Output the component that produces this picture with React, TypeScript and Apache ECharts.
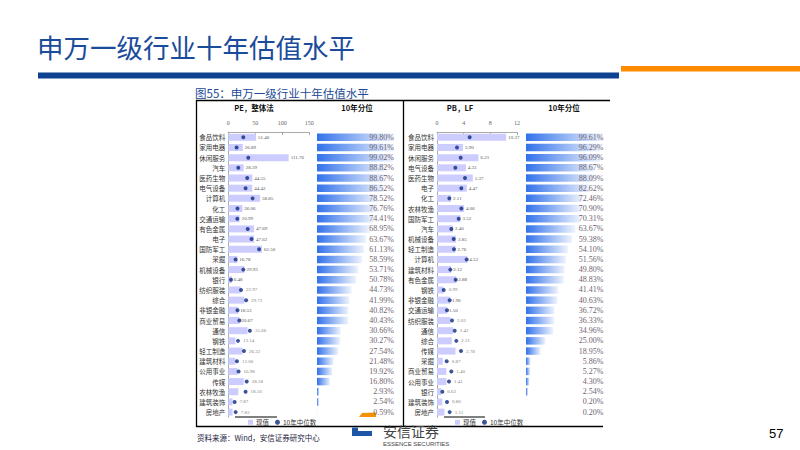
import React, { useEffect, useRef } from "react";
import * as echarts from "echarts";

const peCategories = ["食品饮料","家用电器","休闲服务","汽车","医药生物","电气设备","计算机","化工","交通运输","有色金属","电子","国防军工","采掘","机械设备","银行","纺织服装","综合","非银金融","商业贸易","通信","钢铁","轻工制造","建筑材料","公用事业","传媒","农林牧渔","建筑装饰","房地产"];
const peCurrent = [51.46,26.89,111.76,28.39,44.55,44.42,58.85,26.06,20.99,47.69,47.62,62.50,16.78,29.93,6.48,22.97,29.73,18.53,20.67,35.66,13.14,26.22,13.00,16.98,28.58,18.50,7.87,7.83];
const peMedian = [27.8,15.4,37,18.5,35,32,45,17,16.7,36,43,57,13.6,27.8,5,23.5,33,17,20.5,40,18,29,16,19,34,32,11.7,13.6];
const pePercentile = [99.80,99.61,99.02,88.82,88.67,86.52,78.52,76.76,74.41,68.95,63.67,61.13,58.59,53.71,50.78,44.73,41.99,40.82,40.43,30.66,30.27,27.54,21.48,19.92,16.80,2.93,2.54,0.59];

const pbCategories = ["食品饮料","家用电器","休闲服务","电气设备","医药生物","电子","化工","农林牧渔","国防军工","汽车","机械设备","轻工制造","计算机","建筑材料","有色金属","钢铁","非银金融","交通运输","纺织服装","通信","综合","传媒","采掘","商业贸易","公用事业","银行","建筑装饰","房地产"];
const pbCurrent = [10.37,3.90,6.21,4.33,5.37,4.47,2.11,4.06,3.52,2.40,2.85,2.76,4.53,2.12,2.88,0.99,1.96,1.50,2.03,2.42,2.21,2.78,0.87,1.40,1.41,0.63,0.80,1.11];
const pbMedian = [4.9,3.0,3.55,2.75,4.2,3.65,1.85,3.65,3.25,2.15,2.5,2.55,4.45,2.0,2.8,1.0,1.9,1.5,2.25,2.65,2.9,3.6,1.45,2.15,1.8,0.8,1.5,1.9];
const pbPercentile = [99.61,96.29,96.09,88.67,88.09,82.62,72.46,70.90,70.31,63.67,59.38,54.10,51.56,49.80,48.83,41.41,40.63,36.72,36.33,34.96,25.00,18.95,5.86,5.27,4.30,2.54,0.20,0.20];

const peTickInterval = 50;
const peMax = 150;
const pbTickInterval = 4;
const pbMax = 12;

const pageTitle = "申万一级行业十年估值水平";
const figureTitle = "图55：申万一级行业十年估值水平";
const peHeader = "PE，整体法";
const pbHeader = "PB，LF";
const pctHeader = "10年分位";
const sourceText = "资料来源：Wind，安信证券研究中心";
const pageNumber = "57";

const GRID_TOP = 132.2;
const GRID_H = 285;
const BAR_COLOR = "#ccccff";
const DOT_COLOR = "#0b2a80";
const CAT_FONT = "Noto Sans CJK SC";
const NUM_FONT = "Liberation Serif";

function pctGradient() {
  return new echarts.graphic.LinearGradient(0, 0, 1, 0, [
    { offset: 0, color: "#3272ea" },
    { offset: 1, color: "#eef3fd" },
  ]);
}

function valueXAxis(gridIndex: number, max: number, interval: number) {
  return {
    type: "value",
    gridIndex,
    position: "top",
    min: 0,
    max,
    interval,
    axisLine: { show: true, lineStyle: { color: "#aaaaaa", width: 1 } },
    axisTick: { show: true, inside: true, length: 3, lineStyle: { color: "#aaaaaa" } },
    axisLabel: { fontSize: 6, color: "#666", fontFamily: NUM_FONT, margin: 6 },
    splitLine: { show: false },
  };
}

function catYAxis(gridIndex: number, data: string[]) {
  return {
    type: "category",
    gridIndex,
    data,
    inverse: true,
    axisLine: { show: true, lineStyle: { color: "#aaaaaa", width: 1 } },
    axisTick: { show: false },
    axisLabel: { interval: 0, fontSize: 6.5, color: "#333", fontFamily: CAT_FONT, margin: 3 },
  };
}

function pctYAxis(gridIndex: number, data: number[]) {
  return {
    type: "category",
    gridIndex,
    z: 10,
    data: data.map((p) => p.toFixed(2) + "%"),
    inverse: true,
    position: "right",
    axisLine: { show: false },
    axisTick: { show: false },
    axisLabel: { interval: 0, fontSize: 8, color: "#6f6470", fontFamily: NUM_FONT, align: "right", margin: 0 },
  };
}

function valueSeries(cats: string[], cur: number[], med: number[], xi: number, yi: number) {
  return [
    {
      name: "现值",
      type: "bar",
      xAxisIndex: xi,
      yAxisIndex: yi,
      barWidth: 7,
      itemStyle: { color: BAR_COLOR },
      data: cur.map((v, i) => ({
        value: v,
        label: { show: v >= med[i] },
      })),
      label: {
        position: "right",
        distance: 2,
        fontSize: 5,
        color: "#555",
        fontFamily: NUM_FONT,
        formatter: (p: any) => Number(p.value).toFixed(2),
      },
    },
    {
      name: "10年中位数",
      type: "scatter",
      xAxisIndex: xi,
      yAxisIndex: yi,
      symbolSize: 4,
      itemStyle: { color: DOT_COLOR },
      data: med.map((m, i) => ({
        value: [m, cats[i]],
        label: { show: m > cur[i], formatter: cur[i].toFixed(2) },
      })),
      label: {
        position: "right",
        distance: 3,
        fontSize: 5,
        color: "#555",
        fontFamily: NUM_FONT,
      },
    },
  ];
}

function pctSeries(pct: number[], xi: number, yi: number) {
  return {
    name: "10年分位",
    type: "bar",
    xAxisIndex: xi,
    yAxisIndex: yi,
    barWidth: 7.5,
    z: 1,
    itemStyle: { color: pctGradient() },
    data: pct,
  };
}

function txt(text: string, x: number, y: number, size: number, color: string, extra: any = {}) {
  return {
    type: "text",
    x,
    y,
    silent: true,
    style: {
      text,
      fill: color,
      fontSize: size,
      fontFamily: extra.fontFamily || CAT_FONT,
      fontWeight: extra.fontWeight || "normal",
      textAlign: extra.align || "left",
      align: extra.align || "left",
      textVerticalAlign: "middle",
      verticalAlign: "middle",
    },
  };
}

function hline(x1: number, x2: number, y: number, color = "#000", w = 1.3) {
  return { type: "line", silent: true, shape: { x1, y1: y, x2, y2: y }, style: { stroke: color, lineWidth: w } };
}
function vline(x: number, y1: number, y2: number, color = "#000", w = 1.3) {
  return { type: "line", silent: true, shape: { x1: x, y1, x2: x, y2 }, style: { stroke: color, lineWidth: w } };
}

export default function App() {
  const ref = useRef<HTMLDivElement>(null);
  useEffect(() => {
    if (!ref.current) return;
    const chart = echarts.init(ref.current, null, { renderer: "svg" });
    const legendBase = {
      data: [
        { name: "现值", icon: "rect" },
        { name: "10年中位数", icon: "circle" },
      ],
      itemWidth: 5,
      itemHeight: 5,
      itemGap: 6,
      selectedMode: false,
      textStyle: { fontSize: 6.5, color: "#333", fontFamily: CAT_FONT, padding: [0, 0, 0, -2] },
      padding: 0,
    };
    chart.setOption({
      animation: false,
      backgroundColor: "#ffffff",
      grid: [
        { left: 228.3, top: GRID_TOP, width: 81, height: GRID_H },
        { left: 317, top: GRID_TOP, width: 77, height: GRID_H },
        { left: 437, top: GRID_TOP, width: 80, height: GRID_H },
        { left: 526, top: GRID_TOP, width: 77.5, height: GRID_H },
      ],
      xAxis: [
        valueXAxis(0, peMax, peTickInterval),
        { type: "value", gridIndex: 1, min: 0, max: 100, show: false },
        valueXAxis(2, pbMax, pbTickInterval),
        { type: "value", gridIndex: 3, min: 0, max: 100, show: false },
      ],
      yAxis: [
        catYAxis(0, peCategories),
        pctYAxis(1, pePercentile),
        catYAxis(2, pbCategories),
        pctYAxis(3, pbPercentile),
      ],
      legend: [
        { ...legendBase, left: 248, top: 419 },
        { ...legendBase, left: 455, top: 419 },
      ],
      series: [
        ...valueSeries(peCategories, peCurrent, peMedian, 0, 0),
        pctSeries(pePercentile, 1, 1),
        ...valueSeries(pbCategories, pbCurrent, pbMedian, 2, 2),
        pctSeries(pbPercentile, 3, 3),
      ],
      graphic: [
        txt(pageTitle, 37, 46, 26.5, "#1a4c9b"),
        { type: "rect", silent: true, shape: { x: 38, y: 72.5, width: 581, height: 6 }, style: { fill: "#0e4290" } },
        { type: "rect", silent: true, shape: { x: 621, y: 66, width: 179, height: 5.5 }, style: { fill: "#ff8c00" } },
        txt(figureTitle, 195, 92.5, 11.5, "#234a96"),
        hline(196, 610, 100.5),
        hline(196, 603, 426.5),
        vline(196.5, 100, 427),
        vline(403.5, 100, 427),
        txt(peHeader, 254, 107, 7.5, "#111", { fontWeight: "bold", align: "center" }),
        txt(pctHeader, 357, 107, 7.5, "#111", { fontWeight: "bold", align: "center" }),
        txt(pbHeader, 460, 107, 7.5, "#111", { fontWeight: "bold", align: "center" }),
        txt(pctHeader, 564, 107, 7.5, "#111", { fontWeight: "bold", align: "center" }),
        hline(235, 277, 417, "#000", 1),
        hline(444, 485, 417, "#000", 1),
        {
          type: "polygon",
          silent: true,
          shape: { points: [[359, 417], [362, 413], [376, 412.5], [376, 417]] },
          style: { fill: "#f39200" },
        },
        {
          type: "polygon",
          silent: true,
          shape: { points: [[352, 427.5], [358, 427.5], [358, 431], [372, 431], [372, 436], [352, 436]] },
          style: { fill: "#1d56a6" },
        },
        txt("安信证券", 383, 430.5, 14, "#444"),
        txt("ESSENCE SECURITIES", 383, 444, 6, "#444", { fontFamily: "Liberation Sans" }),
        txt(sourceText, 197, 437.5, 7.5, "#1c1c3c"),
        txt(pageNumber, 769, 433, 13, "#000", { fontFamily: "Liberation Sans" }),
      ],
    });
    return () => chart.dispose();
  }, []);
  return <div ref={ref} style={{ position: "fixed", left: 0, top: 0, width: 800, height: 450 }} />;
}
